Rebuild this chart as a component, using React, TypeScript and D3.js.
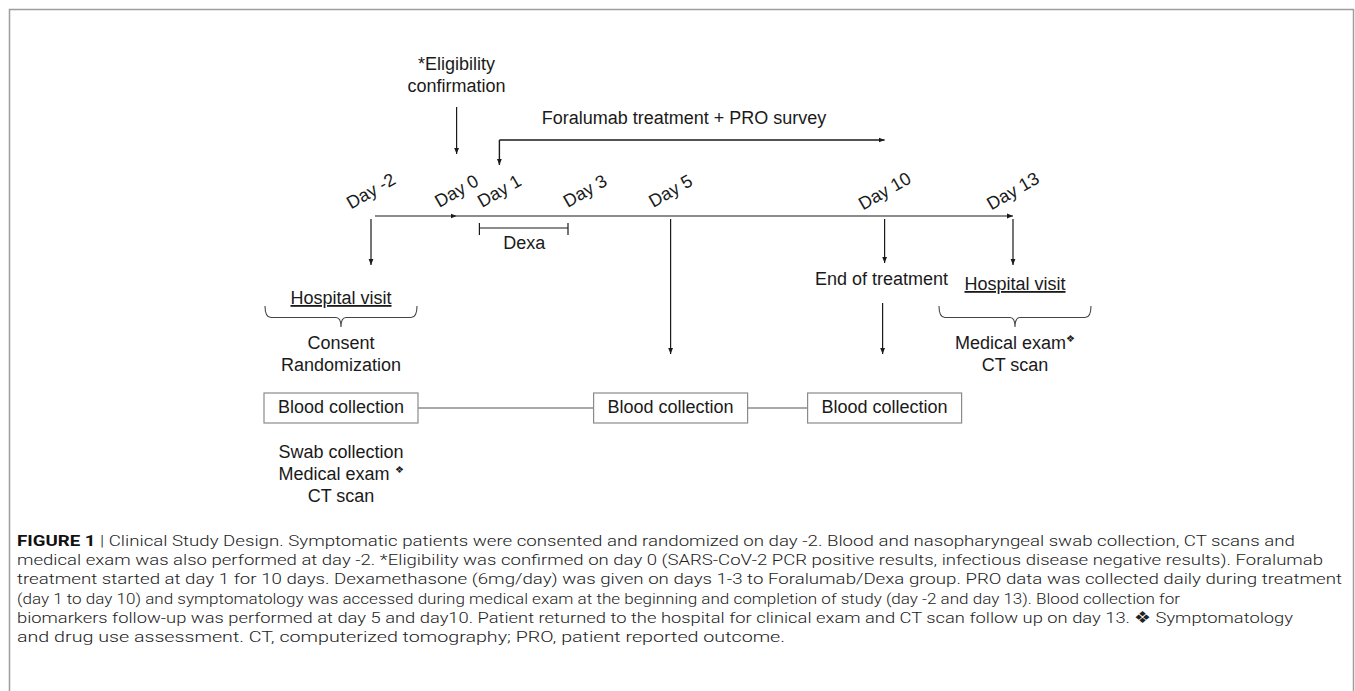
import * as d3 from "d3"

// timeline data
const days = [-2, 0, 1, 3, 5, 10, 13]
const eligibilityDay = 0
const treatmentSpan = [1, 10]
const dexaSpan = [1, 3]
const bloodDays = [-2, 5, 10]
const visitDays = [-2, 13]

const eligibilityLines = ["*Eligibility", "confirmation"]
const treatmentLabel = "Foralumab treatment + PRO survey"
const dexaLabel = "Dexa"
const endLabel = "End of treatment"
const visitLabel = "Hospital visit"
const visitNotes = [
  ["Consent", "Randomization"],
  ["Medical exam", "CT scan"],
]
const day0Notes = ["Swab collection", "Medical exam ", "CT scan"]
const boxLabel = "Blood collection"

const captionLines = [
  "Clinical Study Design. Symptomatic patients were consented and randomized on day -2. Blood and nasopharyngeal swab collection, CT scans and",
  "medical exam was also performed at day -2. *Eligibility was confirmed on day 0 (SARS-CoV-2 PCR positive results, infectious disease negative results). Foralumab",
  "treatment started at day 1 for 10 days. Dexamethasone (6mg/day) was given on days 1-3 to Foralumab/Dexa group. PRO data was collected daily during treatment",
  "(day 1 to day 10) and symptomatology was accessed during medical exam at the beginning and completion of study (day -2 and day 13). Blood collection for",
  "biomarkers follow-up was performed at day 5 and day10. Patient returned to the hospital for clinical exam and CT scan follow up on day 13. \u2756 Symptomatology",
  "and drug use assessment. CT, computerized tomography; PRO, patient reported outcome.",
]
// rendered width of each caption line (layout only)
const captionWidths = [1278, 1306, 1325, 1163, 1276, 768]

const W = 1355
const H = 691
const FONT = "'Liberation Sans', Arial, Helvetica, sans-serif"
const CAP_FONT = "Roboto, 'Liberation Sans', sans-serif"
const INK = "#1a1a1a"

function brace(cx: number, half: number, top: number, bottom: number) {
  const mid = top + (bottom - top) * 0.55
  const x0 = cx - half
  const x1 = cx + half
  return `M${x0},${top} Q${x0},${mid} ${x0 + 6},${mid} L${cx - 5},${mid} Q${cx},${mid} ${cx},${bottom} Q${cx},${mid} ${cx + 5},${mid} L${x1 - 6},${mid} Q${x1},${mid} ${x1},${top}`
}

export default function App() {
  const x = d3.scaleLinear().domain([d3.min(days)!, d3.max(days)!]).range([371, 1013])

  const lineY = 216
  const boxTop = 393
  const boxH = 30
  const boxW = 154
  // the day -2 group sits slightly left of its marker
  const leftShift = -30
  const boxCenters = bloodDays.map((d, i) => x(d) + (i === 0 ? leftShift : 0))
  const txt = { fontFamily: FONT, fontSize: 18, fill: INK }

  return (
    <svg width={W} height={H} style={{ position: "absolute", left: 0, top: 0 }}>
      <defs>
        <marker id="ah" viewBox="0 0 10 10" refX="10" refY="5" markerWidth="6" markerHeight="6" markerUnits="userSpaceOnUse" orient="auto">
          <path d="M0,1 L10,5 L0,9 z" fill={INK} />
        </marker>
      </defs>
      <rect x={9.5} y={9.5} width={1344} height={800} fill="none" stroke="#9d9d9d" strokeWidth={1.5} />

      {/* eligibility */}
      {eligibilityLines.map((l, i) => (
        <text key={l} x={x(eligibilityDay)} y={70 + i * 22} textAnchor="middle" {...txt}>{l}</text>
      ))}
      <line x1={x(eligibilityDay)} x2={x(eligibilityDay)} y1={107} y2={154} stroke={INK} strokeWidth={1.2} markerEnd="url(#ah)" />

      {/* treatment */}
      <text x={(x(treatmentSpan[0]) + x(treatmentSpan[1])) / 2 - 8} y={124} textAnchor="middle" {...txt}>{treatmentLabel}</text>
      <path d={`M${x(treatmentSpan[0])},140 L${x(treatmentSpan[1])},140`} stroke={INK} strokeWidth={1.4} fill="none" markerEnd="url(#ah)" />
      <path d={`M${x(treatmentSpan[0])},140 L${x(treatmentSpan[0])},165`} stroke={INK} strokeWidth={1.4} fill="none" markerEnd="url(#ah)" />

      {/* day labels */}
      {days.map((d) => (
        <text key={d} transform={`translate(${x(d)},${191}) rotate(-30)`} textAnchor="middle" dominantBaseline="central" {...txt}>
          {`Day ${d}`}
        </text>
      ))}

      {/* main timeline */}
      <line x1={x(days[0]) + 4} x2={x(eligibilityDay)} y1={lineY} y2={lineY} stroke={INK} strokeWidth={1.2} markerEnd="url(#ah)" />
      <line x1={x(eligibilityDay)} x2={x(days[days.length - 1])} y1={lineY} y2={lineY} stroke={INK} strokeWidth={1.2} markerEnd="url(#ah)" />

      {/* dexa */}
      <g stroke={INK} strokeWidth={1.2}>
        <line x1={x(dexaSpan[0]) - 20} x2={x(dexaSpan[1]) - 17} y1={228} y2={228} />
        <line x1={x(dexaSpan[0]) - 20} x2={x(dexaSpan[0]) - 20} y1={223} y2={235} />
        <line x1={x(dexaSpan[1]) - 17} x2={x(dexaSpan[1]) - 17} y1={223} y2={235} />
      </g>
      <text x={(x(dexaSpan[0]) + x(dexaSpan[1])) / 2 - 18} y={249} textAnchor="middle" {...txt}>{dexaLabel}</text>

      {/* vertical arrows from timeline */}
      {visitDays.map((d) => (
        <line key={d} x1={x(d)} x2={x(d)} y1={219} y2={265} stroke={INK} strokeWidth={1.2} markerEnd="url(#ah)" />
      ))}
      <line x1={x(bloodDays[1])} x2={x(bloodDays[1])} y1={219} y2={354} stroke={INK} strokeWidth={1.2} markerEnd="url(#ah)" />
      <line x1={x(treatmentSpan[1])} x2={x(treatmentSpan[1])} y1={219} y2={263} stroke={INK} strokeWidth={1.2} markerEnd="url(#ah)" />
      <text x={x(treatmentSpan[1]) - 3} y={285} textAnchor="middle" {...txt}>{endLabel}</text>
      <line x1={x(treatmentSpan[1]) - 2} x2={x(treatmentSpan[1]) - 2} y1={303} y2={354} stroke={INK} strokeWidth={1.2} markerEnd="url(#ah)" />

      {/* hospital visits */}
      {visitDays.map((d, i) => {
        const cx = i === 0 ? x(d) + leftShift : x(d) + 2
        const base = i === 0 ? 304 : 290
        return (
          <g key={d}>
            <text x={cx} y={base} textAnchor="middle" textDecoration="underline" {...txt}>{visitLabel}</text>
            <path d={brace(cx, 76, 306, 327)} fill="none" stroke="#444" strokeWidth={1.1} />
            {visitNotes[i].map((n, j) => (
              <text key={n} x={cx} y={349 + j * 22} textAnchor="middle" {...txt}>
                {n}
                {i === 1 && j === 0 ? <tspan fontSize={10} dy={-7}>{"\u2756"}</tspan> : null}
              </text>
            ))}
          </g>
        )
      })}

      {/* blood collection boxes */}
      {boxCenters.slice(1).map((c, i) => (
        <line key={i} x1={boxCenters[i] + boxW / 2} x2={c - boxW / 2} y1={boxTop + boxH / 2} y2={boxTop + boxH / 2} stroke="#555" strokeWidth={1.1} />
      ))}
      {boxCenters.map((c, i) => (
        <g key={i}>
          <rect x={c - boxW / 2} y={boxTop} width={boxW} height={boxH} fill="#fff" stroke="#8a8a8a" strokeWidth={1.2} />
          <text x={c} y={boxTop + 20} textAnchor="middle" {...txt}>{boxLabel}</text>
        </g>
      ))}
      {day0Notes.map((n, j) => (
        <text key={n} x={boxCenters[0]} y={458 + j * 22} textAnchor="middle" {...txt}>
          {n}
          {j === 1 ? <tspan fontSize={10} dy={-7}>{"\u2756"}</tspan> : null}
        </text>
      ))}

      {/* caption */}
      {captionLines.map((l, i) => (
        <text
          key={i}
          x={17}
          y={546 + i * 19.2}
          fontFamily={CAP_FONT}
          fontWeight={300}
          fontSize={15.5}
          fill="#222"
          textLength={captionWidths[i]}
          lengthAdjust="spacingAndGlyphs"
        >
          {i === 0 ? (
            <>
              <tspan fontWeight={700} fill="#111">FIGURE 1</tspan>
              <tspan>{" | "}</tspan>
            </>
          ) : null}
          {l}
        </text>
      ))}
    </svg>
  )
}
